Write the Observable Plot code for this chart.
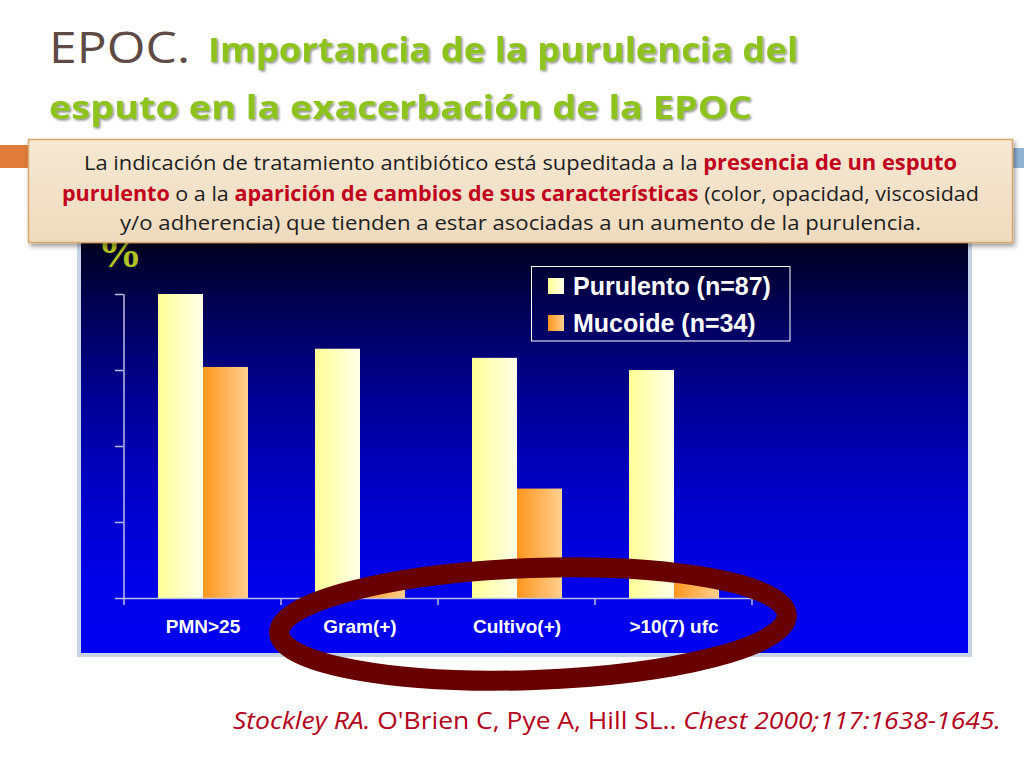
<!DOCTYPE html>
<html><head><meta charset="utf-8">
<script src="https://cdn.jsdelivr.net/npm/d3@7"></script>
<script src="https://cdn.jsdelivr.net/npm/@observablehq/plot@0.6"></script>
<style>
html,body{margin:0;padding:0;background:#fff;}
#page{position:relative;width:1024px;height:768px;overflow:hidden;background:#fff;}
#panel{position:absolute;left:77px;top:226px;width:887px;height:423px;border:4px solid #c7d4e6;z-index:1;}
#panel svg{display:block;}
#overlay{position:absolute;left:0;top:0;z-index:2;pointer-events:none;}
</style></head>
<body><div id="page"><div id="panel"></div><svg id="overlay" width="1024" height="768"></svg></div>
<script>
// ---- data ----
const categories = ["PMN>25", "Gram(+)", "Cultivo(+)", ">10(7) ufc"];
const purulento = [100, 82, 79, 75];
const mucoide = [76, 4, 36, 9];
const seriesNames = ["Purulento (n=87)", "Mucoide (n=34)"];
const yTicks = [0, 25, 50, 75, 100];
const yLabel = "%";
const titleLead = "EPOC.";
const titleLine1 = "Importancia de la purulencia del";
const titleLine2 = "esputo en la exacerbación de la EPOC";
const boxLine1 = [["La indicación de tratamiento antibiótico está supeditada a la ", false], ["presencia de un esputo", true]];
const boxLine2 = [["purulento", true], [" o a la ", false], ["aparición de cambios de sus características", true], [" (color, opacidad, viscosidad", false]];
const boxLine3 = [["y/o adherencia) que tienden a estar asociadas a un aumento de la purulencia.", false]];
const citation = [["Stockley RA.", true], [" O'Brien C, Pye A, Hill SL.. ", false], ["Chest 2000;117:1638-1645.", true]];

const rows = categories.flatMap((c, i) => [
  {cat: c, series: seriesNames[0], value: purulento[i]},
  {cat: c, series: seriesNames[1], value: mucoide[i]}
]);

const AXIS = "#bcbce8";
const SANS = "'Open Sans', Lato, sans-serif";

// gradient definitions as a function mark
const defsMark = () => {
  const defs = d3.create("svg:defs");
  const g1 = defs.append("linearGradient").attr("id", "gPur").attr("x1", 0).attr("x2", 1).attr("y1", 0).attr("y2", 0);
  g1.append("stop").attr("offset", 0).attr("stop-color", "#ffff96");
  g1.append("stop").attr("offset", 1).attr("stop-color", "#ffffe8");
  const g2 = defs.append("linearGradient").attr("id", "gMuc").attr("x1", 0).attr("x2", 1).attr("y1", 0).attr("y2", 0);
  g2.append("stop").attr("offset", 0).attr("stop-color", "#ff961e");
  g2.append("stop").attr("offset", 1).attr("stop-color", "#ffcf8e");
  return defs.node();
};

// y-axis line and category-boundary ticks using the scales
const axisFrame = (index, scales) => {
  const {x, y} = scales;
  const g = d3.create("svg:g").attr("stroke", AXIS).attr("stroke-width", 1.5).attr("fill", "none");
  const x0 = x(categories[0]);
  const bw = x.bandwidth();
  const y0 = y(0);
  g.append("line").attr("x1", x0).attr("x2", x0).attr("y1", y(yTicks[yTicks.length - 1])).attr("y2", y0);
  const bounds = categories.map(c => x(c)).concat([x(categories[categories.length - 1]) + bw]);
  for (const b of bounds) g.append("line").attr("x1", b).attr("x2", b).attr("y1", y0).attr("y2", y0 + 7);
  return g.node();
};

const chart = Plot.plot({
  width: 887, height: 423,
  marginTop: 64, marginRight: 216, marginBottom: 55, marginLeft: 42,
  style: {
    background: "linear-gradient(to bottom, #000016 0%, #00004a 15%, #000090 38%, #0000c4 60%, #0000e6 82%, #0000f2 100%)",
    color: "white",
    fontFamily: "'Liberation Sans', Arial, sans-serif",
    overflow: "visible"
  },
  x: {domain: categories, padding: 0, axis: null},
  y: {domain: [0, 100], axis: null},
  marks: [
    defsMark,
    Plot.barY(rows.filter(d => d.series === seriesNames[0]), {x: "cat", y: "value", fill: "url(#gPur)", insetLeft: 34, insetRight: 78}),
    Plot.barY(rows.filter(d => d.series === seriesNames[1]), {x: "cat", y: "value", fill: "url(#gMuc)", insetLeft: 79, insetRight: 33}),
    Plot.ruleY([0], {stroke: AXIS, strokeWidth: 1.5}),
    Plot.axisY(yTicks, {tickSize: 8, tickFormat: () => "", stroke: AXIS, strokeWidth: 1.5, label: null}),
    Plot.axisX({tickSize: 0, tickPadding: 21, fontSize: 19, fontWeight: "bold", fill: "white", label: null}),
    axisFrame
  ]
});
document.getElementById("panel").appendChild(chart);

// ---- slide decorations ----
const ov = d3.select("#overlay");
const defs = ov.append("defs");
const f1 = defs.append("filter").attr("id", "boxShadow").attr("x", "-5%").attr("y", "-20%").attr("width", "110%").attr("height", "150%");
f1.append("feDropShadow").attr("dx", 2).attr("dy", 3).attr("stdDeviation", 2.5).attr("flood-color", "#000").attr("flood-opacity", 0.4);
const f2 = defs.append("filter").attr("id", "txtShadow");
f2.append("feDropShadow").attr("dx", 1.5).attr("dy", 1.5).attr("stdDeviation", 0.8).attr("flood-color", "#000").attr("flood-opacity", 0.45);
const bg = defs.append("linearGradient").attr("id", "boxFill").attr("x1", 0).attr("x2", 0).attr("y1", 0).attr("y2", 1);
bg.append("stop").attr("offset", 0).attr("stop-color", "#f6e8d3");
bg.append("stop").attr("offset", 1).attr("stop-color", "#efdbbe");
const lp = defs.append("linearGradient").attr("id", "lPur").attr("x1", 0).attr("x2", 1);
lp.append("stop").attr("offset", 0).attr("stop-color", "#ffff96");
lp.append("stop").attr("offset", 1).attr("stop-color", "#ffffe8");
const lm = defs.append("linearGradient").attr("id", "lMuc").attr("x1", 0).attr("x2", 1);
lm.append("stop").attr("offset", 0).attr("stop-color", "#ff961e");
lm.append("stop").attr("offset", 1).attr("stop-color", "#ffcf8e");

// legend
const leg = ov.append("g");
leg.append("rect").attr("x", 531.5).attr("y", 266.5).attr("width", 258.5).attr("height", 74.5).attr("fill", "none").attr("stroke", "#ffffff").attr("stroke-width", 1);
seriesNames.forEach((s, i) => {
  leg.append("rect").attr("x", 548).attr("y", 278 + i * 37).attr("width", 16).attr("height", 16).attr("fill", i === 0 ? "url(#lPur)" : "url(#lMuc)");
  leg.append("text").attr("x", 573).attr("y", 295 + i * 37).attr("font-family", "'Liberation Sans', Arial, sans-serif")
    .attr("font-size", 25).attr("font-weight", "bold").attr("fill", "#fff").text(s);
});

// horizontal bar behind the box
ov.append("rect").attr("x", 0).attr("y", 145).attr("width", 80).attr("height", 23).attr("fill", "#e07b39");
ov.append("rect").attr("x", 960).attr("y", 148).attr("width", 64).attr("height", 20).attr("fill", "#92b4d4");

// y label
ov.append("text").attr("x", 98).attr("y", 267).attr("font-family", "'Liberation Serif', 'Times New Roman', serif")
  .attr("font-size", 44).attr("font-weight", "bold").attr("fill", "#b2c424").text(yLabel);

// info box
ov.append("rect").attr("x", 28.5).attr("y", 139.5).attr("width", 984).attr("height", 103)
  .attr("fill", "url(#boxFill)").attr("stroke", "#d8a86e").attr("stroke-width", 1.5).attr("filter", "url(#boxShadow)");
const boxLines = [boxLine1, boxLine2, boxLine3];
const boxLens = [873, 917, 801];
const boxBase = [170, 201, 230];
boxLines.forEach((parts, i) => {
  const t = ov.append("text").attr("x", 520.5).attr("y", boxBase[i]).attr("text-anchor", "middle")
    .attr("font-family", SANS).attr("font-size", 20.5).attr("fill", "#1e1e1e")
    .attr("textLength", boxLens[i]).attr("lengthAdjust", "spacingAndGlyphs");
  parts.forEach(([s, b]) => {
    const ts = t.append("tspan").text(s);
    if (b) ts.attr("font-weight", 700).attr("fill", "#c0001c");
  });
});

// titles
ov.append("text").attr("x", 49).attr("y", 63).attr("font-family", SANS)
  .attr("font-size", 44).attr("fill", "#5e4b45").attr("textLength", 141).attr("lengthAdjust", "spacingAndGlyphs").text(titleLead);
ov.append("text").attr("x", 208).attr("y", 62).attr("font-family", SANS)
  .attr("font-size", 34).attr("font-weight", 700).attr("fill", "#8ec21f").attr("filter", "url(#txtShadow)")
  .attr("textLength", 590).attr("lengthAdjust", "spacingAndGlyphs").text(titleLine1);
ov.append("text").attr("x", 49).attr("y", 119).attr("font-family", SANS)
  .attr("font-size", 33).attr("font-weight", 700).attr("fill", "#8ec21f").attr("filter", "url(#txtShadow)")
  .attr("textLength", 703).attr("lengthAdjust", "spacingAndGlyphs").text(titleLine2);

// citation
const ct = ov.append("text").attr("x", 233).attr("y", 729).attr("font-family", SANS)
  .attr("font-size", 23).attr("fill", "#b3001b").attr("textLength", 768).attr("lengthAdjust", "spacingAndGlyphs");
citation.forEach(([s, it]) => { const ts = ct.append("tspan").text(s); if (it) ts.attr("font-style", "italic"); });

// highlight ring
ov.append("ellipse").attr("cx", 533).attr("cy", 624).attr("rx", 254).attr("ry", 56)
  .attr("transform", "rotate(-2 533 624)").attr("fill", "none").attr("stroke", "#680000").attr("stroke-width", 20);
</script></body></html>
